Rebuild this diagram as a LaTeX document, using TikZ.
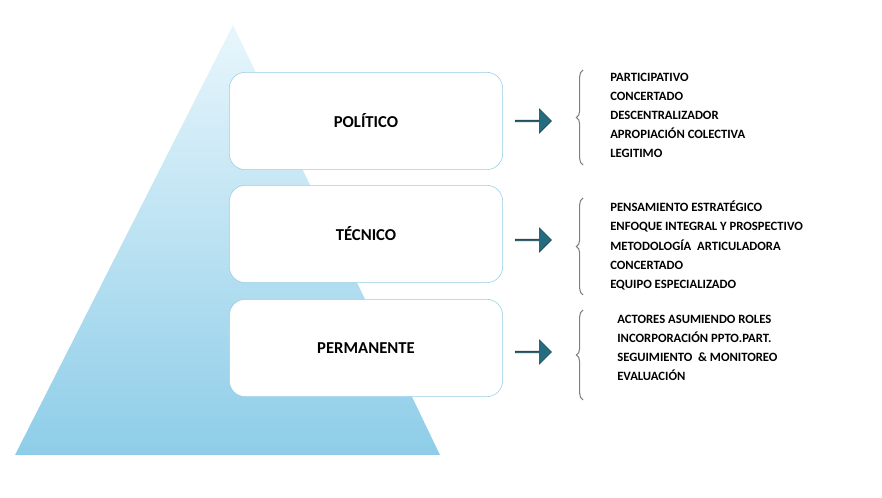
\documentclass[tikz,border=0pt]{standalone}
\usepackage{fontspec}
\setmainfont{Carlito}
\usetikzlibrary{shapes.arrows,decorations.pathreplacing}
\definecolor{tealA}{RGB}{38,108,128}
\definecolor{pyrTop}{RGB}{232,246,252}
\definecolor{pyrBot}{RGB}{142,205,232}
\definecolor{boxLine}{RGB}{150,205,230}
\begin{document}
\begin{tikzpicture}[x=0.75pt,y=-0.75pt,
    level/.style={draw=boxLine,fill=white,rounded corners=12pt,minimum width=205pt,minimum height=73pt,font=\fontsize{12.5}{14}\selectfont\bfseries},
    go/.style={single arrow,draw=tealA!60!black,fill=tealA,minimum width=18pt,minimum height=27pt,single arrow head extend=3pt,inner sep=0pt},
    items/.style={anchor=north west,align=left,font=\fontsize{9.5}{14.3}\selectfont\bfseries,inner sep=0pt},
    brace/.style={draw=gray,decorate,decoration={brace,amplitude=5pt},thick}]
  \useasboundingbox (0,0) rectangle (882,498);
  \shade[top color=pyrTop,bottom color=pyrBot] (233,25) -- (440,455) -- (15,455) -- cycle;

  \node[level] (pol) at (366,121) {POLÍTICO};
  \node[level] (tec) at (366,234) {TÉCNICO};
  \node[level] (per) at (366,348) {PERMANENTE};

  \node[go] (a1) at (533,121) {};
  \node[go] (a2) at (533,240) {};
  \node[go] (a3) at (533,352) {};

  \coordinate (b1t) at (583,70);  \coordinate (b1b) at (583,165);
  \coordinate (b2t) at (583,198); \coordinate (b2b) at (583,295);
  \coordinate (b3t) at (583,310); \coordinate (b3b) at (583,400);
  \draw[brace] (b1b) -- (b1t);
  \draw[brace] (b2b) -- (b2t);
  \draw[brace] (b3b) -- (b3t);

  \node[items] (l1) at (610,73) {PARTICIPATIVO\\CONCERTADO\\DESCENTRALIZADOR\\APROPIACIÓN COLECTIVA\\LEGITIMO};
  \node[items] (l2) at (610,201) {PENSAMIENTO ESTRATÉGICO\\ENFOQUE INTEGRAL Y PROSPECTIVO\\METODOLOGÍA~ ARTICULADORA\\CONCERTADO\\EQUIPO ESPECIALIZADO};
  \node[items] (l3) at (617,315) {ACTORES ASUMIENDO ROLES\\INCORPORACIÓN PPTO.PART.\\SEGUIMIENTO~ \& MONITOREO\\EVALUACIÓN};
\end{tikzpicture}
\end{document}
